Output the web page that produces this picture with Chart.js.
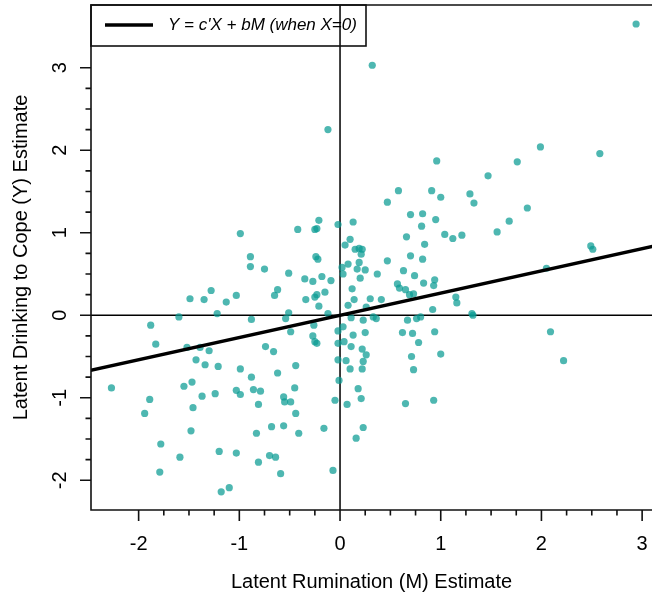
<!DOCTYPE html>
<html>
<head>
<meta charset="utf-8">
<script src="https://cdn.jsdelivr.net/npm/chart.js@4.4.1/dist/chart.umd.min.js"></script>
<style>
  html, body { margin: 0; padding: 0; background: #fff; overflow: hidden; }
  #wrap { width: 652px; height: 598px; position: relative; }
</style>
</head>
<body>
<div id="wrap"><canvas id="chartScores"></canvas></div>
<script>
// latent factor scores
const rumination = [
  -0.99, -0.89, -0.89, -0.75, -1.28, -1.49, -1.35, -1.03, -1.13, -0.65,
  -0.62, -1.22, -1.60, -0.88, -1.88, -1.83, -1.52, -1.39, -1.30, -1.43,
  -1.34, -1.21, -0.99, -0.88, -0.74, -0.66, -0.62, -2.27, -1.55, -1.47,
  -1.03, -0.99, -0.86, -0.79, -1.24, -1.37, -1.89, -1.46, -0.81, -1.94,
  -1.48, -0.68, -0.83, -1.78, -1.59, -1.20, -1.03, -0.81, -0.70, -0.64,
  -0.59, -1.79, -1.18, -1.10, -0.34, -0.21, -0.51, -0.54, -0.12, 0.08,
  0.14, 0.26, 0.30, 0.41, 0.03, 0.11, 0.23, 0.33, 0.36, -0.02,
  0.13, 0.25, -0.26, -0.27, -0.25, -0.23, -0.49, -0.02, 0.04, 0.11,
  0.22, 0.26, 0.23, 0.22, 0.10, 0.06, -0.02, -0.01, -0.44, -0.45,
  -0.56, -0.55, -0.49, -0.44, -0.05, 0.07, 0.18, 0.21, -0.56, -0.41,
  -0.16, 0.23, 0.16, -0.07, 0.67, 0.76, 0.80, 0.92, 0.62, 0.72,
  0.94, 0.78, 1.00, 0.71, 0.73, 0.65, 0.93, 2.05, 1.15, 1.16,
  1.31, 1.32, 2.09, 2.22, -0.12, 0.96, 0.58, 0.91, 1.00, 0.47,
  0.70, 0.82, 0.95, 0.81, 1.04, 1.12, 1.21, 0.66, 0.84, -0.42,
  -0.25, -0.23, -0.21, -0.02, 0.13, 0.10, 0.05, 0.15, 0.19, 0.22,
  0.21, 0.19, 0.08, 0.02, 0.03, 0.17, 0.25, 0.20, 0.37, 0.47,
  0.70, 0.82, 0.63, 0.74, 0.83, 0.94, 0.93, 0.57, 0.59, 0.65,
  0.69, 0.73, -0.51, -0.35, -0.27, -0.18, -0.09, -0.24, -0.22, -0.25,
  -0.23, -0.15, 0.12, 2.94, 1.99, 2.58, 1.76, 1.47, 1.29, 1.33,
  1.86, 1.68, 1.56, 2.49, 2.51, 0.32
];
const drinking = [
  0.99, 0.71, 0.59, 0.56, 0.30, 0.20, 0.19, 0.24, 0.16, 0.24,
  0.31, 0.02, -0.02, -0.05, -0.12, -0.35, -0.39, -0.39, -0.43, -0.54,
  -0.60, -0.62, -0.65, -0.75, -0.38, -0.44, -0.70, -0.88, -0.86, -0.81,
  -0.91, -0.96, -0.90, -0.92, -0.95, -0.98, -1.02, -1.12, -1.08, -1.19,
  -1.40, -1.35, -1.43, -1.56, -1.72, -1.65, -1.67, -1.78, -1.70, -1.72,
  -1.92, -1.90, -2.14, -2.09, 0.19, 0.11, 0.03, -0.04, 0.02, 0.12,
  0.19, 0.10, 0.20, 0.19, -0.14, -0.03, -0.06, -0.02, -0.04, -0.19,
  -0.24, -0.21, -0.12, -0.25, -0.32, -0.34, -0.20, -0.34, -0.32, -0.38,
  -0.41, -0.48, -0.56, -0.65, -0.65, -0.55, -0.54, -0.79, -0.61, -0.88,
  -0.99, -1.05, -1.05, -1.19, -1.03, -1.08, -0.89, -1.01, -1.34, -1.43,
  -1.37, -1.36, -1.49, -1.88, -0.06, -0.04, -0.02, 0.07, -0.21, -0.22,
  -0.20, -0.33, -0.47, -0.50, -0.66, -1.07, -1.03, 0.57, 0.22, 0.15,
  0.02, 0.00, -0.20, -0.55, 2.25, 1.87, 1.51, 1.51, 1.43, 1.37,
  1.22, 1.23, 1.16, 1.08, 0.98, 0.93, 0.97, 0.95, 0.86, 1.04,
  1.04, 1.05, 1.15, 1.10, 1.13, 0.92, 0.85, 0.80, 0.81, 0.80,
  0.74, 0.64, 0.62, 0.58, 0.50, 0.56, 0.55, 0.45, 0.50, 0.66,
  0.72, 0.68, 0.54, 0.48, 0.39, 0.43, 0.36, 0.38, 0.33, 0.31,
  0.25, 0.26, 0.51, 0.44, 0.41, 0.47, 0.42, 0.71, 0.68, 0.22,
  0.25, 0.28, 0.32, 3.53, 2.04, 1.96, 1.86, 1.69, 1.47, 1.36,
  1.30, 1.14, 1.01, 0.84, 0.80, 3.03
];

// Y = c'X + bM at X = 0, ends run past the plot edges
const lineM = [-2.6, 3.2];
const lineY = [-0.70, 0.86];

const xTickLabels = [-2, -1, 0, 1, 2, 3];
const yTickLabels = [-2, -1, 0, 1, 2, 3];
const xRange = [-2.473, 3.098];
const yRange = [-2.36, 3.76];

const legendText = "Y = c'X + bM (when X=0)";
const FONT = "'Liberation Sans', Arial, Helvetica, sans-serif";

Chart.defaults.font.family = FONT;
Chart.defaults.color = "#000";

function isWhole(v) {
  return Math.abs(v - Math.round(v)) < 1e-6;
}

function tickLabel(labels) {
  return (v) => (isWhole(v) && labels.includes(Math.round(v)) ? String(Math.round(v)) : "");
}

// R-style frame: zero lines, box, major/minor tick marks and the legend box
const rFrame = {
  id: "rFrame",
  beforeDatasetsDraw(chart) {
    const { ctx, chartArea: a, scales: { x, y } } = chart;
    const x0 = x.getPixelForValue(0);
    const y0 = y.getPixelForValue(0);
    ctx.save();
    ctx.strokeStyle = "#000";
    ctx.lineWidth = 1.5;
    ctx.beginPath();
    ctx.moveTo(a.left, y0);
    ctx.lineTo(a.right, y0);
    ctx.moveTo(x0, a.top);
    ctx.lineTo(x0, a.bottom);
    ctx.stroke();
    ctx.restore();
  },
  afterDraw(chart) {
    const { ctx, chartArea: a, scales: { x, y } } = chart;
    ctx.save();
    ctx.strokeStyle = "#111";
    ctx.lineWidth = 1.6;

    // box (right side runs off the picture)
    ctx.beginPath();
    ctx.moveTo(a.right + 2, a.top);
    ctx.lineTo(a.left, a.top);
    ctx.lineTo(a.left, a.bottom);
    ctx.lineTo(a.right + 2, a.bottom);
    ctx.stroke();

    ctx.beginPath();
    x.ticks.forEach((t) => {
      if (t.value < xTickLabels[0] - 1e-6 || t.value > xTickLabels[xTickLabels.length - 1] + 1e-6) return;
      const px = x.getPixelForValue(t.value);
      ctx.moveTo(px, a.bottom);
      ctx.lineTo(px, a.bottom + (isWhole(t.value) ? 11 : 5.5));
    });
    y.ticks.forEach((t) => {
      if (t.value < yTickLabels[0] - 1e-6 || t.value > yTickLabels[yTickLabels.length - 1] + 1e-6) return;
      const py = y.getPixelForValue(t.value);
      ctx.moveTo(a.left, py);
      ctx.lineTo(a.left - (isWhole(t.value) ? 11 : 5.5), py);
    });
    ctx.stroke();

    // legend
    ctx.lineWidth = 1.6;
    ctx.strokeRect(a.left, a.top, 275, 41);
    ctx.lineWidth = 3.5;
    ctx.strokeStyle = "#000";
    ctx.beginPath();
    ctx.moveTo(a.left + 14, a.top + 20);
    ctx.lineTo(a.left + 62, a.top + 20);
    ctx.stroke();
    ctx.fillStyle = "#000";
    ctx.font = "italic 17px " + FONT;
    ctx.textBaseline = "alphabetic";
    ctx.textAlign = "left";
    ctx.fillText(legendText, a.left + 77, a.top + 24.5);
    ctx.restore();
  }
};

const chart = new Chart(document.getElementById("chartScores"), {
  type: "scatter",
  data: {
    datasets: [
      {
        label: legendText,
        data: lineM.map((m, i) => ({ x: m, y: lineY[i] })),
        showLine: true,
        borderColor: "#000",
        borderWidth: 3.3,
        pointRadius: 0,
        clip: 0,
        order: 0
      },
      {
        label: "scores",
        data: rumination.map((m, i) => ({ x: m, y: drinking[i] })),
        backgroundColor: "rgba(10, 155, 147, 0.72)",
        borderWidth: 0,
        pointRadius: 3.6,
        order: 1
      }
    ]
  },
  options: {
    responsive: true,
    maintainAspectRatio: false,
    animation: false,
    events: [],
    layout: { autoPadding: false, padding: { top: 5, right: 0, bottom: 0, left: 0 } },
    plugins: {
      legend: { display: false },
      tooltip: { enabled: false }
    },
    scales: {
      x: {
        type: "linear",
        min: xRange[0],
        max: xRange[1],
        grid: { display: false, drawTicks: false },
        border: { display: false },
        ticks: {
          stepSize: 0.25,
          includeBounds: false,
          autoSkip: false,
          minRotation: 0,
          maxRotation: 0,
          padding: 22,
          color: "#000",
          font: { size: 20 },
          callback: tickLabel(xTickLabels)
        },
        title: {
          display: true,
          text: "Latent Rumination (M) Estimate",
          color: "#000",
          font: { size: 20 },
          padding: { top: 0, bottom: 4 }
        },
        afterFit(s) {
          s.height = 88;
          s.paddingLeft = 0;
          s.paddingRight = 0;
        }
      },
      y: {
        type: "linear",
        min: yRange[0],
        max: yRange[1],
        grid: { display: false, drawTicks: false },
        border: { display: false },
        ticks: {
          stepSize: 0.25,
          includeBounds: false,
          autoSkip: false,
          minRotation: 90,
          maxRotation: 90,
          crossAlign: "center",
          padding: 22,
          color: "#000",
          font: { size: 20 },
          callback: tickLabel(yTickLabels)
        },
        title: {
          display: true,
          text: "Latent Drinking to Cope (Y) Estimate",
          color: "#000",
          font: { size: 20 },
          padding: { top: 9, bottom: 0 }
        },
        afterFit(s) {
          s.width = 91;
          s.paddingTop = 0;
          s.paddingBottom = 0;
        }
      }
    }
  },
  plugins: [rFrame]
});
</script>
</body>
</html>
